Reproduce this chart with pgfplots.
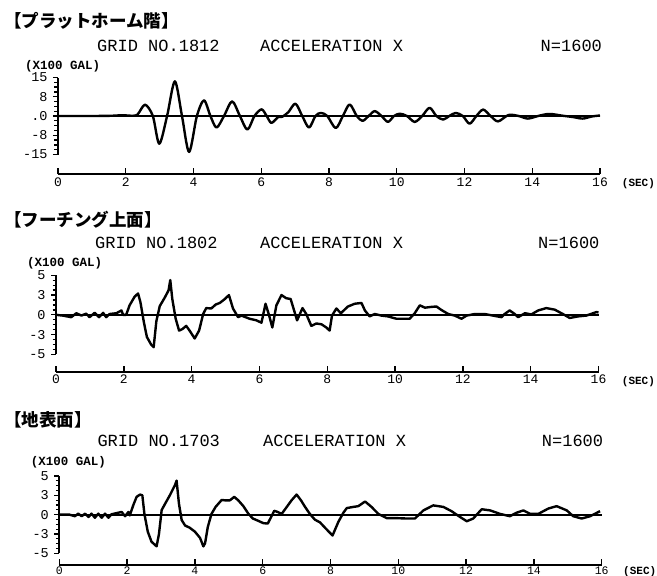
\documentclass[border=0pt]{standalone}
\usepackage{fontspec}
\setmainfont{Liberation Mono}
\newfontfamily\jp{Noto Sans CJK JP}
\usepackage{pgfplots}
\pgfplotsset{compat=1.18}
\pgfplotsset{
  /pgf/number format/assume math mode=true,
  trace/.style={scale only axis, anchor=south west,
    axis y line*=left, axis x line=none, xtick=\empty,
    xmin=0, xmax=16, enlargelimits=false, clip=false,
    tick align=outside, major tick length=5bp, minor tick length=3.5bp,
    minor y tick num=3,
    y axis line style={line width=1.7bp},
    tick style={line width=1.3bp, black},
    yticklabel style={font=\fontsize{13.5bp}{13.5bp}\selectfont, xshift=-2bp}},
  xax/.style={scale only axis, anchor=south west, height=10bp,
    axis x line*=bottom, axis y line=none, ytick=\empty,
    xmin=0, xmax=16, ymin=0, ymax=1,
    xtick={0,2,...,16}, tick align=inside, major tick length=6bp,
    x axis line style={line width=1.7bp},
    tick style={line width=1.4bp, black},
    xticklabel style={font=\fontsize{13bp}{13bp}\selectfont}},
  sig/.style={line width=2.4bp, black, line join=round},
  zl/.style={line width=1.8bp, black},
}
\newcommand{\bigf}{\fontsize{17bp}{19bp}\selectfont}
\newcommand{\unitf}{\bfseries\fontsize{12.5bp}{14bp}\selectfont}
\newcommand{\secf}{\bfseries\fontsize{11bp}{13bp}\selectfont}
\newcommand{\ttlf}{\jp\bfseries\fontsize{17.5bp}{19bp}\selectfont}
\begin{document}
\begin{tikzpicture}
\useasboundingbox (0,0) rectangle (657bp,-576bp);
% ---------------- Panel 1 ----------------
\node[anchor=west, inner sep=0] at (4bp,-21bp) {\ttlf 【プラットホーム階】};
\node[anchor=base west, inner sep=0] at (97bp,-51.7bp) {\bigf GRID NO.1812};
\node[anchor=base west, inner sep=0] at (260bp,-51.7bp) {\bigf ACCELERATION X};
\node[anchor=base west, inner sep=0] at (540.5bp,-51.7bp) {\bigf N=1600};
\node[anchor=base west, inner sep=0] at (25bp,-69.5bp) {\unitf (X100 GAL)};
\node[anchor=base west, inner sep=0] at (621.7bp,-186.5bp) {\secf (SEC)};
\begin{axis}[trace, at={(58bp,-154.5bp)}, width=542bp, height=77bp,
  ymin=-15, ymax=15, ytick={-15,-7.5,0,7.5,15}, yticklabels={-15,-8,.0,8,15}]
\addplot[zl] coordinates {(0,0) (16,0)};
\addplot[sig, smooth, tension=0.5] coordinates {
(0,0) (1.0,0) (1.6,0.1) (1.9,0.3) (2.2,0.1) (2.35,0.6) (2.57,4.4) (2.80,0)
(2.99,-10.8) (3.22,0) (3.45,13.5) (3.66,0) (3.87,-14.0) (4.10,0) (4.31,6.1)
(4.50,0) (4.68,-4.5) (4.90,0) (5.14,5.7) (5.37,0) (5.59,-5.3) (5.80,0)
(6.01,2.6) (6.16,0) (6.30,-2.7) (6.50,-0.4) (6.62,-0.3) (6.80,1.5) (7.01,4.8)
(7.21,0) (7.41,-4.5) (7.60,0) (7.76,1.2) (7.95,0) (8.20,-4.7) (8.41,0)
(8.61,4.5) (8.82,0) (8.99,-1.9) (9.17,0) (9.35,1.9) (9.55,0) (9.74,-2.3)
(9.92,0) (10.09,0.9) (10.30,0) (10.53,-2.3) (10.75,0) (10.97,3.2) (11.17,0)
(11.37,-1.4) (11.55,0) (11.74,1.2) (11.95,0) (12.15,-3.0) (12.35,0)
(12.55,2.5) (12.77,0) (12.99,-2.1) (13.3,0.4) (13.6,0) (13.87,-1.0)
(14.2,0.1) (14.51,0.8) (14.9,0.1) (15.2,-0.4) (15.49,-1.0) (15.75,-0.2) (16,0.2)};
\end{axis}
\begin{axis}[xax, at={(58bp,-174bp)}, width=542bp]
\end{axis}
% ---------------- Panel 2 ----------------
\node[anchor=west, inner sep=0] at (4bp,-220bp) {\ttlf 【フーチング上面】};
\node[anchor=base west, inner sep=0] at (95bp,-248bp) {\bigf GRID NO.1802};
\node[anchor=base west, inner sep=0] at (260bp,-248bp) {\bigf ACCELERATION X};
\node[anchor=base west, inner sep=0] at (538bp,-248bp) {\bigf N=1600};
\node[anchor=base west, inner sep=0] at (27bp,-266.5bp) {\unitf (X100 GAL)};
\node[anchor=base west, inner sep=0] at (621.7bp,-384bp) {\secf (SEC)};
\begin{axis}[trace, at={(56bp,-354.3bp)}, width=542.5bp, height=79bp,
  ymin=-5, ymax=5, ytick={-5,-2.5,0,2.5,5}, yticklabels={-5,-3,0,3,5}]
\addplot[zl] coordinates {(0,0) (16,0)};
\addplot[sig] coordinates {
(0,0) (0.2,-0.1) (0.45,-0.3) (0.60,0.2) (0.75,-0.1) (0.89,0.15) (0.99,-0.3)
(1.14,0.25) (1.27,-0.3) (1.39,0.25) (1.48,-0.3) (1.58,0.1) (1.78,0.2)
(1.93,0.55) (1.98,0) (2.07,0) (2.17,1.2) (2.32,2.3) (2.42,2.7) (2.49,1.6)
(2.59,-0.9) (2.68,-2.8) (2.81,-3.8) (2.88,-4.1) (2.96,-0.8) (3.06,1.1)
(3.21,2.2) (3.32,3.1) (3.37,4.4) (3.43,2.0) (3.53,-0.5) (3.63,-2.0)
(3.73,-1.8) (3.84,-1.4) (3.94,-2.0) (4.09,-3.0) (4.22,-2.0) (4.34,0.1)
(4.43,0.85) (4.58,0.8) (4.71,1.3) (4.83,1.5) (4.98,2.0) (5.10,2.5)
(5.22,0.8) (5.37,-0.3) (5.47,-0.1) (5.59,-0.3) (5.71,-0.5) (5.91,-0.7)
(6.06,-1.0) (6.18,1.4) (6.28,0) (6.38,-1.6) (6.50,1.2) (6.65,2.5) (6.79,2.1)
(6.92,2.0) (7.04,0.3) (7.11,-0.7) (7.27,0.85) (7.38,0.1) (7.53,-1.4)
(7.68,-1.1) (7.83,-1.2) (7.97,-1.6) (8.07,-2.0) (8.14,-0.1) (8.27,0.8)
(8.40,0.2) (8.61,1.05) (8.81,1.4) (9.01,1.5) (9.11,0.55) (9.25,-0.2)
(9.40,0.1) (9.60,-0.1) (9.79,-0.2) (10.04,-0.5) (10.24,-0.5) (10.43,-0.5)
(10.58,0.2) (10.73,1.2) (10.88,0.9) (11.07,1.0) (11.22,1.05) (11.37,0.6)
(11.57,0.1) (11.76,-0.1) (11.96,-0.5) (12.11,-0.1) (12.35,0.1) (12.64,0.1)
(12.89,-0.1) (13.14,-0.3) (13.23,0.1) (13.38,0.55) (13.53,0.1) (13.63,-0.3)
(13.83,0.2) (14.02,0.05) (14.22,0.55) (14.46,0.85) (14.71,0.65) (14.95,0.1)
(15.15,-0.4) (15.40,-0.2) (15.64,-0.1) (15.94,0.35) (16,0.3)};
\end{axis}
\begin{axis}[xax, at={(56bp,-371.7bp)}, width=542.5bp]
\end{axis}
% ---------------- Panel 3 ----------------
\node[anchor=west, inner sep=0] at (4bp,-419.5bp) {\ttlf 【地表面】};
\node[anchor=base west, inner sep=0] at (97.3bp,-446.5bp) {\bigf GRID NO.1703};
\node[anchor=base west, inner sep=0] at (263bp,-446.5bp) {\bigf ACCELERATION X};
\node[anchor=base west, inner sep=0] at (541.7bp,-446.5bp) {\bigf N=1600};
\node[anchor=base west, inner sep=0] at (30.7bp,-465.5bp) {\unitf (X100 GAL)};
\node[anchor=base west, inner sep=0] at (623bp,-574bp) {\secf (SEC)};
\begin{axis}[trace, at={(59.3bp,-553.3bp)}, width=542.4bp, height=77.3bp,
  ymin=-5, ymax=5, ytick={-5,-2.5,0,2.5,5}, yticklabels={-5,-3,0,3,5}]
\addplot[zl] coordinates {(0,0) (16,0)};
\addplot[sig] coordinates {
(0,0) (0.3,0) (0.46,-0.2) (0.56,0.13) (0.66,-0.2) (0.76,0.13) (0.86,-0.3)
(0.95,0.13) (1.05,-0.4) (1.15,0.13) (1.25,-0.4) (1.35,0.13) (1.45,-0.4)
(1.54,0.05) (1.69,0.2) (1.84,0.35) (1.94,-0.2) (2.04,0.35) (2.08,-0.1)
(2.18,1.2) (2.28,2.3) (2.38,2.6) (2.45,2.5) (2.51,0.1) (2.61,-2.2)
(2.72,-3.5) (2.87,-4.1) (2.94,-2.5) (3.02,0.6) (3.12,1.4) (3.26,2.5)
(3.41,3.8) (3.46,4.4) (3.53,1.4) (3.61,-0.7) (3.71,-1.4) (3.85,-1.7)
(4.00,-2.2) (4.15,-3.0) (4.25,-4.1) (4.30,-3.7) (4.38,-1.6) (4.49,0.1)
(4.61,1.0) (4.69,1.4) (4.79,1.9) (4.89,1.85) (5.03,1.85) (5.16,2.3)
(5.28,1.85) (5.43,1.1) (5.58,0.1) (5.71,-0.5) (5.87,-0.8) (6.02,-1.1)
(6.15,-1.15) (6.26,-0.2) (6.34,0.5) (6.44,0.35) (6.56,0.1) (6.71,1.0)
(6.85,1.85) (7.00,2.6) (7.13,1.85) (7.25,1.0) (7.39,0.1) (7.54,-0.65)
(7.69,-1.0) (7.84,-1.7) (8.06,-2.7) (8.23,-0.95) (8.38,0.25) (8.48,0.85)
(8.67,1.0) (8.82,1.1) (9.02,1.7) (9.21,1.0) (9.41,0.1) (9.66,-0.45)
(9.95,-0.45) (10.25,-0.5) (10.49,-0.5) (10.74,0.55) (11.03,1.2) (11.33,1.0)
(11.57,0.45) (11.82,-0.3) (12.02,-0.85) (12.21,-0.5) (12.46,0.7) (12.71,0.55)
(13.0,0.1) (13.29,-0.2) (13.49,0.25) (13.69,0.55) (13.89,0.1) (14.13,0.1)
(14.43,0.8) (14.67,1.1) (14.97,0.55) (15.16,-0.2) (15.41,-0.5) (15.66,-0.2)
(15.95,0.45)};
\end{axis}
\begin{axis}[xax, at={(59.3bp,-565.3bp)}, width=542.4bp,
  xticklabel style={font=\fontsize{11.5bp}{11.5bp}\selectfont, inner sep=0pt, yshift=-1bp}]
\end{axis}
\end{tikzpicture}
\end{document}
